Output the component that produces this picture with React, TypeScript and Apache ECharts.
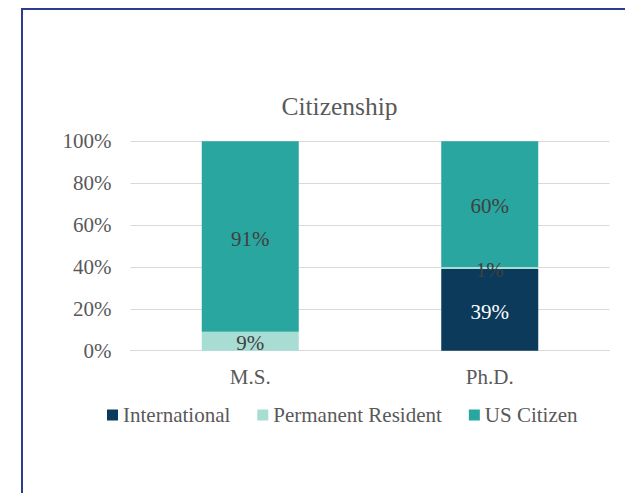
import React, { useEffect, useRef } from "react";
import * as echarts from "echarts";

const categories = ["M.S.", "Ph.D."];
const international = [0, 39];
const permanentResident = [9, 1];
const usCitizen = [91, 60];
const yTicks = [0, 20, 40, 60, 80, 100];

const FONT = "Liberation Serif";
const TEXT = "#595959";

export default function App() {
  const ref = useRef<HTMLDivElement>(null);
  useEffect(() => {
    if (!ref.current) return;
    const chart = echarts.init(ref.current, null, { renderer: "svg" });
    const lbl = (color: string) => ({
      show: true,
      position: "inside",
      offset: [0, 2],
      color,
      fontSize: 21,
      fontFamily: FONT,
      formatter: (p: any) => (p.value ? p.value + "%" : ""),
    });
    chart.setOption({
      animation: false,
      backgroundColor: "#ffffff",
      textStyle: { fontFamily: FONT },
      title: {
        text: "Citizenship",
        left: 334.5,
        top: 88,
        textAlign: "center",
        textStyle: { fontFamily: FONT, fontSize: 25.5, fontWeight: "normal", color: TEXT },
      },
      legend: {
        left: 107,
        top: 404.5,
        padding: 0,
        itemWidth: 11,
        itemHeight: 11,
        itemGap: 27,
        icon: "rect",
        textStyle: { fontFamily: FONT, fontSize: 21, color: TEXT },
        data: ["International", "Permanent Resident", "US Citizen"],
      },
      grid: { left: 130.5, right: 15.5, top: 141.3, bottom: 142.3, containLabel: false },
      xAxis: {
        type: "category",
        data: categories,
        axisLine: { lineStyle: { color: "#d9d9d9", width: 1 } },
        axisTick: { show: false },
        axisLabel: { fontFamily: FONT, fontSize: 21, color: TEXT, margin: 16 },
      },
      yAxis: {
        type: "value",
        min: yTicks[0],
        max: yTicks[yTicks.length - 1],
        interval: 20,
        axisLine: { show: false },
        axisTick: { show: false },
        splitLine: { lineStyle: { color: "#d9d9d9", width: 1 } },
        axisLabel: { fontFamily: FONT, fontSize: 21, color: TEXT, margin: 19, formatter: "{value}%" },
      },
      graphic: [
        {
          type: "rect",
          shape: { x: 22, y: 9, width: 800, height: 600 },
          style: { fill: "none", stroke: "#2b3d8e", lineWidth: 2 },
          silent: true,
        },
      ],
      series: [
        {
          name: "International",
          type: "bar",
          stack: "a",
          barWidth: 97,
          data: international,
          itemStyle: { color: "#0b3a5a" },
          label: lbl("#ffffff"),
        },
        {
          name: "Permanent Resident",
          type: "bar",
          stack: "a",
          barWidth: 97,
          data: permanentResident,
          itemStyle: { color: "#a8ddd4" },
          label: lbl("#404040"),
        },
        {
          name: "US Citizen",
          type: "bar",
          stack: "a",
          barWidth: 97,
          data: usCitizen,
          itemStyle: { color: "#29a69f" },
          label: lbl("#404040"),
        },
      ],
    });
    return () => chart.dispose();
  }, []);
  return (
    <div
      ref={ref}
      style={{ position: "absolute", left: 0, top: 0, width: 625, height: 493, background: "#fff" }}
    />
  );
}
